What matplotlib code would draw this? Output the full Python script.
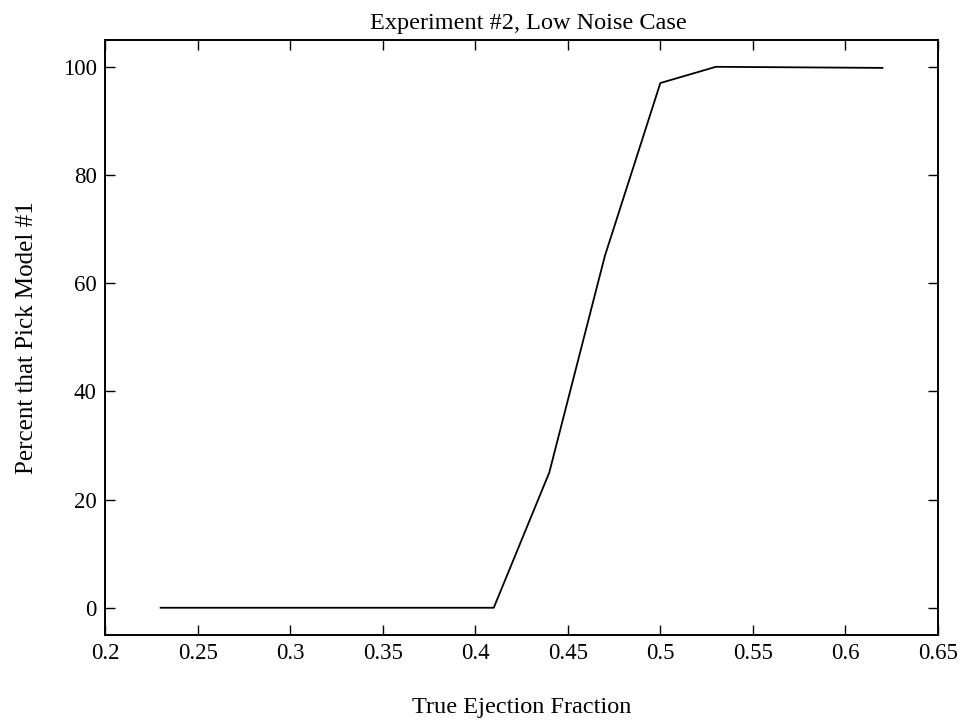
import matplotlib
matplotlib.use("Agg")
import matplotlib.pyplot as plt

# values
ejection_fraction = [0.23, 0.41, 0.44, 0.47, 0.50, 0.53, 0.62]
pct_model1 = [0.0, 0.0, 25.0, 65.0, 97.0, 100.0, 99.8]

x_ticks = [0.2, 0.25, 0.3, 0.35, 0.4, 0.45, 0.5, 0.55, 0.6, 0.65]
x_tick_labels = ["0.2", "0.25", "0.3", "0.35", "0.4", "0.45", "0.5", "0.55", "0.6", "0.65"]
y_ticks = [0, 20, 40, 60, 80, 100]

plt.rcParams['font.family'] = ['Liberation Serif', 'DejaVu Serif']

fig = plt.figure(figsize=(9.64, 7.23), dpi=100)
ax = fig.add_axes([0.109, 0.122, 0.864, 0.823])

ax.plot(ejection_fraction, pct_model1, color='black', linewidth=1.3)

ax.set_xlim(0.2, 0.65)
ax.set_ylim(-5, 105)
ax.set_xticks(x_ticks)
ax.set_xticklabels(x_tick_labels)
ax.set_yticks(y_ticks)

ax.tick_params(direction='in', length=7, width=1.0, top=True, right=True,
               labelsize=16.5, pad=6)
for s in ax.spines.values():
    s.set_linewidth(1.4)

ax.set_title("Experiment #2, Low Noise Case", fontsize=17.5, pad=8, x=0.508)
ax.set_xlabel("True Ejection Fraction", fontsize=17.5, labelpad=24)
ax.set_ylabel("Percent that Pick Model #1", fontsize=18, labelpad=18)

fig.savefig("out.png", dpi=100)
